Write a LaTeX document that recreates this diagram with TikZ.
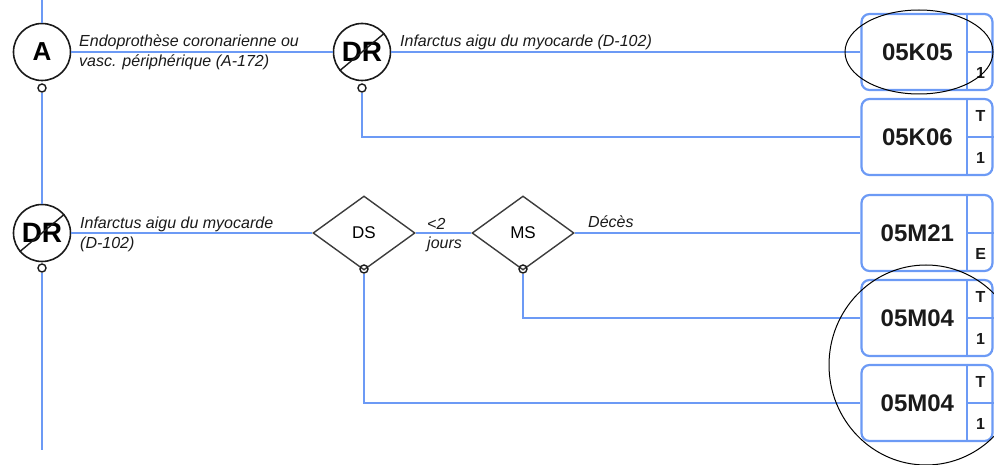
\documentclass[tikz,border=0pt]{standalone}
\usepackage{fontspec}
\setmainfont{Liberation Sans}
\usepackage{tikz}
\usetikzlibrary{calc,positioning,shapes.geometric}
\definecolor{linkx}{HTML}{6C9AF5}
\definecolor{inkx}{HTML}{1A1A1A}
\tikzset{
  ln/.style={linkx,line width=2.2pt},
  ev/.style={circle,draw=inkx,line width=1.6pt,minimum size=57pt,inner sep=0pt,font=\fontsize{26}{26}\selectfont\bfseries},
  dr/.style={ev,font=\fontsize{28}{28}\selectfont\bfseries},
  knob/.style={circle,draw=inkx,line width=1.4pt,minimum size=8pt,inner sep=0pt},
  dec/.style={diamond,draw=inkx!85,line width=1.4pt,aspect=1.38,minimum width=102pt,minimum height=74pt,inner sep=0pt,font=\fontsize{17}{17}\selectfont},
  lab/.style={font=\fontsize{16}{20}\selectfont\itshape,align=left,anchor=west,inner sep=0pt,text=inkx},
  res/.style={draw=linkx,line width=2.2pt,rounded corners=8pt,minimum width=131pt,minimum height=76pt,inner sep=0pt},
  code/.style={font=\fontsize{24}{24}\selectfont\bfseries,text=inkx},
  cell/.style={font=\fontsize{16}{16}\selectfont\bfseries,text=inkx},
  ring/.style={black,line width=1pt}
}
\begin{document}
\begin{tikzpicture}[x=1pt,y=-1pt]
\useasboundingbox (0,0) rectangle (994,465);
\clip (0,0) rectangle (994,465);
% events on the main line
\node[ev] (a) at (42,52) {A};
\node[knob] (ka) at (42,88) {};
\node[dr] (d1) at (362,52) {DR};
\node[knob] (k1) at (362,88) {};
\node[dr] (d2) at (42,233) {DR};
\node[knob] (k2) at (42,268) {};
\draw[inkx,line width=1.4pt] (d1.220) -- (d1.40) (d2.220) -- (d2.40);
% decisions
\node[dec] (ds) at (364,233) {DS};
\node[knob] (kds) at (364,269) {};
\node[dec] (ms) at (523,233) {MS};
\node[knob] (kms) at (523,269) {};
% result boxes
\node[res] (r1) at (927,52) {};
\node[res] (r2) at (927,137) {};
\node[res] (r3) at (927,233) {};
\node[res] (r4) at (927,318) {};
\node[res] (r5) at (927,403) {};
\node[code] (c1) at ($(r1.west)+(57,0)$) {05K05};
\node[code] (c2) at ($(r2.west)+(57,0)$) {05K06};
\node[code] (c3) at ($(r3.west)+(57,0)$) {05M21};
\node[code] (c4) at ($(r4.west)+(57,0)$) {05M04};
\node[code] (c5) at ($(r5.west)+(57,0)$) {05M04};
\node[cell] (b1) at ($(r1.south east)+(-13,-18)$) {1};
\node[cell] (t2) at ($(r2.north east)+(-13,18)$) {T};
\node[cell] (b2) at ($(r2.south east)+(-13,-18)$) {1};
\node[cell] (b3) at ($(r3.south east)+(-13,-18)$) {E};
\node[cell] (t4) at ($(r4.north east)+(-13,18)$) {T};
\node[cell] (b4) at ($(r4.south east)+(-13,-18)$) {1};
\node[cell] (t5) at ($(r5.north east)+(-13,18)$) {T};
\node[cell] (b5) at ($(r5.south east)+(-13,-18)$) {1};
\draw[ln] ($(r1.north east)+(-27,0)$) -- ($(r1.south east)+(-27,0)$) ($(r1.east)+(-27,0)$) -- (r1.east);
\draw[ln] ($(r2.north east)+(-27,0)$) -- ($(r2.south east)+(-27,0)$) ($(r2.east)+(-27,0)$) -- (r2.east);
\draw[ln] ($(r3.north east)+(-27,0)$) -- ($(r3.south east)+(-27,0)$) ($(r3.east)+(-27,0)$) -- (r3.east);
\draw[ln] ($(r4.north east)+(-27,0)$) -- ($(r4.south east)+(-27,0)$) ($(r4.east)+(-27,0)$) -- (r4.east);
\draw[ln] ($(r5.north east)+(-27,0)$) -- ($(r5.south east)+(-27,0)$) ($(r5.east)+(-27,0)$) -- (r5.east);
% connectors
\coordinate (top) at (42,0);
\coordinate (bot) at (42,450);
\draw[ln] (top) -- (a);
\draw[ln] (ka) -- (d2);
\draw[ln] (k2) -- (bot);
\draw[ln] (a) -- (d1);
\draw[ln] (d1) -- (r1);
\draw[ln] (k1) |- (r2);
\draw[ln] (d2) -- (ds);
\draw[ln] (ds) -- (ms);
\draw[ln] (ms) -- (r3);
\draw[ln] (kms) |- (r4);
\draw[ln] (kds) |- (r5);
% labels
\node[lab] (la) at (79,52) {Endoprothèse coronarienne ou\\vasc. périphérique (A-172)};
\node[lab,anchor=base west] (l1) at (400,47) {Infarctus aigu du myocarde (D-102)};
\node[lab] (l2) at (80,234) {Infarctus aigu du myocarde\\(D-102)};
\node[lab,font=\fontsize{16}{19}\selectfont\itshape] (l3) at (427,235) {<2\\jours};
\node[lab,anchor=base west] (l4) at (588,228) {Décès};
% highlight rings
\draw[ring] (919,52) ellipse [x radius=74pt, y radius=42pt];
\draw[ring] (926,365) ellipse [x radius=97pt, y radius=100pt];
\end{tikzpicture}
\end{document}
